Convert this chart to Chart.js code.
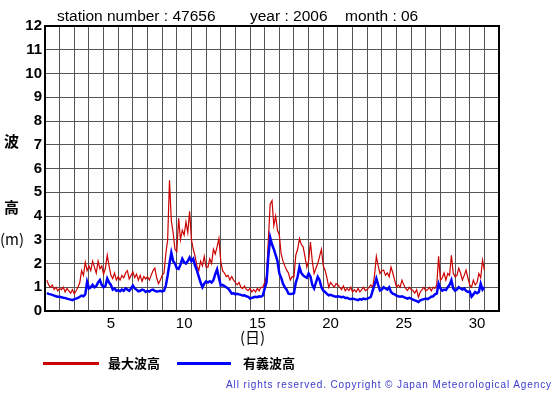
<!DOCTYPE html>
<html>
<head>
<meta charset="utf-8">
<script src="https://cdn.jsdelivr.net/npm/chart.js@4/dist/chart.umd.min.js"></script>
<style>
  body { margin: 0; background: #fff; }
  #wrap { position: relative; width: 555px; height: 395px; font-family: "Liberation Sans", Arial, sans-serif; }
  #chart { position: absolute; left: 0; top: 0; }
  .txt { position: absolute; white-space: nowrap; color: #000; }
  .ttl { font-size: 15.5px; top: 7px; }
  .yl { font-family: "Noto Sans CJK JP", sans-serif; font-size: 15px; font-weight: bold; left: 4px; }
  .leg { font-family: "Noto Sans CJK JP", sans-serif; font-size: 13px; font-weight: bold; top: 353px; }
  .line { position: absolute; height: 3px; top: 362px; }
  #copy { font-size: 10px; color: #3a3acc; letter-spacing: 0.9px; left: 226px; top: 379px; }
</style>
</head>
<body>
<div id="wrap">
  <canvas id="chart" width="555" height="395"></canvas>
  <div class="txt ttl" style="left:57px">station number : 47656</div>
  <div class="txt ttl" style="left:250px">year : 2006</div>
  <div class="txt ttl" style="left:345px">month : 06</div>
  <div class="txt yl" style="top:130px">波</div>
  <div class="txt yl" style="top:196px">高</div>
  <div class="txt yl" style="top:228px;left:0px;font-weight:normal">(m)</div>
  <div class="txt" style="left:240px;top:326px;font-family:'Noto Sans CJK JP',sans-serif;font-size:15px">(日)</div>
  <div class="line" style="left:43px;width:56px;background:#cc0000"></div>
  <div class="txt leg" style="left:108px">最大波高</div>
  <div class="line" style="left:177px;width:54px;background:#0000ff"></div>
  <div class="txt leg" style="left:243px">有義波高</div>
  <div class="txt" id="copy">All rights reserved. Copyright © Japan Meteorological Agency</div>
</div>
<script>
// 3-hourly readings, one row per day of the month (8 values each)
const maxWave = [
  1.3, 1.1, 1.0, 1.1, 0.9, 1.0, 0.85, 0.95,
  0.9, 1.0, 0.8, 0.95, 0.85, 0.75, 0.9, 0.72,
  0.85, 1.0, 1.2, 1.7, 1.5, 2.05, 1.7, 1.9,
  1.7, 2.1, 1.85, 1.6, 2.1, 1.78, 1.9, 1.55,
  1.8, 2.35, 1.9, 1.5, 1.37, 1.6, 1.3, 1.45,
  1.3, 1.5, 1.4, 1.6, 1.7, 1.35, 1.5, 1.65,
  1.4, 1.55, 1.3, 1.5, 1.25, 1.45, 1.35, 1.44,
  1.3, 1.5, 1.7, 1.8, 1.4, 1.15, 1.3, 1.5,
  1.6, 2.4, 3.0, 5.5, 3.8, 3.3, 2.6, 2.5,
  3.9, 3.0, 3.4, 3.2, 3.75, 3.3, 4.2, 3.0,
  2.6, 2.3, 1.9, 1.7, 2.1, 1.9, 2.3, 1.85,
  1.85, 2.2, 2.0, 2.6, 2.4, 2.7, 3.05, 2.1,
  1.7, 1.6, 1.45, 1.5, 1.3, 1.45, 1.3, 1.2,
  1.1, 1.2, 1.0, 0.95, 1.05, 0.9, 0.86, 0.95,
  0.8, 0.9, 0.8, 0.95, 0.85, 1.0, 1.0, 1.2,
  1.45, 3.0, 4.5, 4.65, 3.6, 4.0, 3.4, 3.2,
  2.4, 2.1, 1.9, 1.72, 1.6, 1.3, 1.45, 1.44,
  2.35, 2.6, 3.05, 2.8, 2.7, 2.3, 1.85, 2.1,
  2.9, 2.1, 1.58, 1.8, 2.0, 2.3, 2.6, 1.9,
  1.72, 1.4, 1.0, 1.2, 1.1, 1.0, 1.15, 1.1,
  1.0, 0.9, 1.05, 0.85, 0.95, 0.86, 1.0, 0.8,
  0.9, 0.8, 0.95, 0.8, 0.9, 1.0, 0.86, 0.9,
  1.0, 1.1, 1.0, 1.5, 2.3, 1.9, 1.58, 1.7,
  1.72, 1.5, 1.6, 1.44, 1.85, 1.6, 1.3, 1.0,
  1.1, 1.0, 1.3, 1.1, 0.95, 0.86, 1.0, 0.9,
  0.86, 0.75, 0.9, 0.58, 0.8, 0.9, 1.0, 0.85,
  0.9, 1.0, 0.85, 1.0, 0.95, 1.1, 2.3, 1.3,
  1.4, 1.6, 1.3, 1.58, 1.5, 2.35, 1.6, 1.44,
  1.5, 1.8, 1.6, 1.3, 1.5, 1.72, 1.4, 1.1,
  1.0, 1.3, 1.1, 1.2, 1.58, 1.4, 2.14, 1.72
];
const sigWave = [
  0.75, 0.72, 0.7, 0.68, 0.65, 0.62, 0.6, 0.6,
  0.58, 0.56, 0.55, 0.52, 0.5, 0.48, 0.46, 0.5,
  0.52, 0.55, 0.6, 0.65, 0.62, 0.7, 1.22, 0.95,
  1.0, 1.1, 1.0, 1.05, 1.2, 1.3, 1.1, 1.0,
  1.05, 1.37, 1.2, 1.1, 0.9, 0.95, 0.85, 0.88,
  0.83, 0.9, 0.85, 0.95, 0.9, 0.85, 0.95, 1.07,
  0.95, 0.9, 0.83, 0.85, 0.9, 0.88, 0.8, 0.85,
  0.82, 0.88, 0.9, 0.85, 0.82, 0.83, 0.85, 0.82,
  0.85, 1.07, 1.5, 2.0, 2.45, 2.1, 2.0, 1.8,
  1.77, 1.95, 2.2, 2.05, 2.0, 2.1, 2.25, 2.1,
  2.2, 1.9, 1.7, 1.45, 1.2, 1.0, 1.15, 1.25,
  1.2, 1.25, 1.2, 1.3, 1.55, 1.75, 1.4, 1.07,
  1.1, 1.05, 1.0, 0.95, 0.85, 0.73, 0.75, 0.7,
  0.72, 0.7, 0.68, 0.65, 0.66, 0.62, 0.6, 0.52,
  0.55, 0.58, 0.6, 0.58, 0.62, 0.6, 0.65, 0.95,
  1.2, 2.3, 3.1, 2.8, 2.6, 2.35, 2.1, 1.58,
  1.4, 1.15, 1.0, 0.9, 0.73, 0.72, 0.73, 0.75,
  1.2, 1.44, 1.85, 1.6, 1.5, 1.44, 1.4, 1.58,
  1.45, 1.1, 0.95, 1.2, 1.44, 1.3, 1.0, 0.86,
  0.8, 0.72, 0.66, 0.68, 0.65, 0.62, 0.6, 0.62,
  0.6, 0.58, 0.6, 0.55, 0.56, 0.52, 0.5, 0.52,
  0.5, 0.48, 0.46, 0.5, 0.48, 0.52, 0.5, 0.52,
  0.55, 0.6, 0.86, 1.1, 1.37, 1.1, 0.86, 0.9,
  1.0, 0.95, 0.9, 1.0, 0.8, 0.73, 0.7, 0.65,
  0.62, 0.6, 0.62, 0.58, 0.55, 0.52, 0.55, 0.52,
  0.48, 0.45, 0.42, 0.38, 0.45, 0.48, 0.5, 0.52,
  0.5, 0.55, 0.6, 0.62, 0.7, 0.73, 1.15, 0.95,
  0.86, 0.9, 0.88, 1.0, 1.1, 1.3, 0.95, 0.86,
  0.9, 1.0, 0.95, 0.9, 0.95, 0.85, 0.8, 0.82,
  0.6, 0.7, 0.8, 0.75, 0.8, 1.15, 0.9, 1.0
];
const dayLabels = [5, 10, 15, 20, 25, 30];
const yTicks = [0, 1, 2, 3, 4, 5, 6, 7, 8, 9, 10, 11, 12];
const stepsPerDay = 8;

function toPoints(values) {
  return values.map((v, i) => ({ x: (i + 1) / stepsPerDay, y: v }));
}

// black frame round the plot area
const framePlugin = {
  id: 'frame',
  afterDraw(chart) {
    const a = chart.chartArea;
    const ctx = chart.ctx;
    ctx.save();
    ctx.strokeStyle = '#000';
    ctx.lineWidth = 2;
    ctx.strokeRect(a.left, a.top, a.right - a.left, a.bottom - a.top);
    ctx.restore();
  }
};

new Chart(document.getElementById('chart'), {
  type: 'line',
  data: {
    datasets: [
      {
        label: '有義波高',
        data: toPoints(sigWave),
        borderColor: '#0000ff',
        borderWidth: 2.5,
        pointRadius: 0,
        order: 0
      },
      {
        label: '最大波高',
        data: toPoints(maxWave),
        borderColor: '#cc0000',
        borderWidth: 1.2,
        pointRadius: 0,
        order: 1
      }
    ]
  },
  options: {
    responsive: false,
    animation: false,
    layout: { padding: { left: 0, top: 26, right: 56, bottom: 60 } },
    plugins: { legend: { display: false }, tooltip: { enabled: false } },
    scales: {
      x: {
        type: 'linear',
        min: 0,
        max: 31,
        afterBuildTicks(scale) {
          const t = [];
          for (let d = 0; d <= 31; d++) t.push({ value: d });
          scale.ticks = t;
        },
        afterFit(scale) { scale.height = 24; },
        grid: { color: '#555', lineWidth: 1, drawTicks: false },
        border: { display: false },
        ticks: {
          autoSkip: false,
          maxRotation: 0,
          padding: 4,
          labelOffset: -7.3,
          color: '#000',
          font: { family: 'Liberation Sans', size: 15 },
          callback: v => dayLabels.includes(v) ? String(v) : ''
        }
      },
      y: {
        min: 0,
        max: 12,
        afterBuildTicks(scale) {
          scale.ticks = yTicks.map(v => ({ value: v }));
        },
        afterFit(scale) { scale.width = 45; },
        grid: { color: '#555', lineWidth: 1, drawTicks: false },
        border: { display: false },
        ticks: {
          padding: 3,
          color: '#000',
          font: { family: 'Liberation Sans', size: 15, weight: 'bold' }
        }
      }
    }
  },
  plugins: [framePlugin]
});
</script>
</body>
</html>
